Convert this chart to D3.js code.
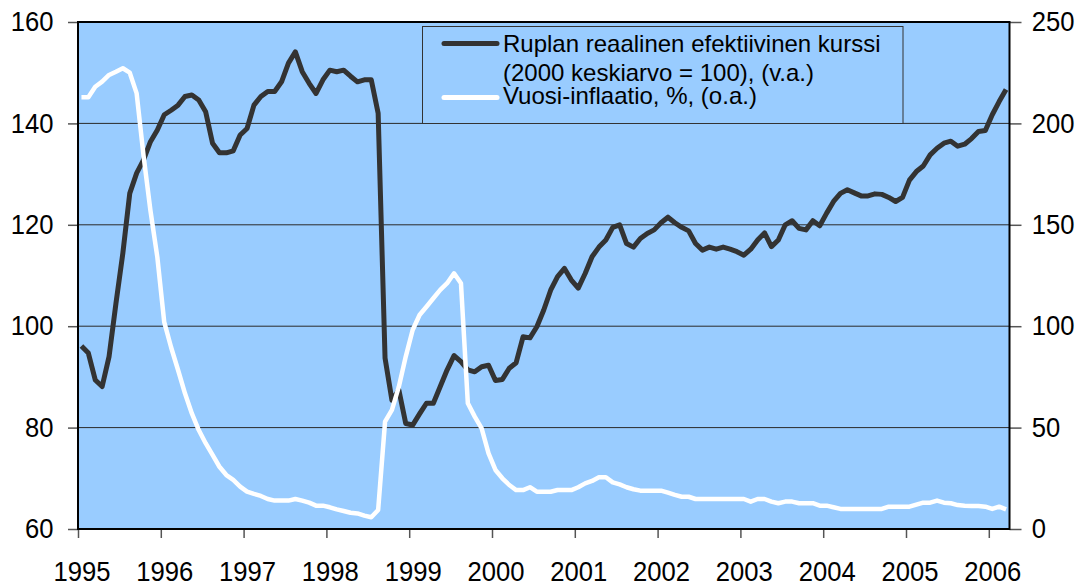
<!DOCTYPE html>
<html>
<head>
<meta charset="utf-8">
<script src="https://cdn.jsdelivr.net/npm/d3@7"></script>
<style>
  body { margin: 0; background: #fff; }
  svg { display: block; font-family: "Liberation Sans", Arial, sans-serif; }
</style>
</head>
<body>
<svg width="1081" height="584"></svg>
<script>
// monthly data, Jan 1995 .. Mar 2006
const yearLabels = ['1995', '1996', '1997', '1998', '1999', '2000', '2001', '2002', '2003', '2004', '2005', '2006'];

// Ruplan reaalinen efektiivinen kurssi (2000 = 100), left axis
const ruble = [
  96.1, 94.7, 89.4, 88.1, 94.0, 104.5, 114.4, 126.2, 130.2, 132.8, 136.4, 138.7,
  141.7, 142.6, 143.6, 145.3, 145.6, 144.6, 142.3, 136.1, 134.2, 134.2, 134.6, 137.7,
  139.0, 143.6, 145.3, 146.3, 146.3, 148.2, 151.9, 154.1, 150.2, 147.9, 145.9, 148.6,
  150.5, 150.2, 150.5, 149.3, 148.2, 148.6, 148.6, 142.0, 93.7, 85.4, 87.4, 80.8,
  80.5, 82.7, 84.8, 84.8, 88.1, 91.4, 94.2, 93.0, 91.4, 91.0, 92.0, 92.3,
  89.3, 89.5, 91.7, 92.8, 97.9, 97.7, 99.9, 103.2, 107.1, 109.8, 111.4, 109.1,
  107.5, 110.4, 113.7, 115.6, 117.0, 119.5, 120.0, 116.3, 115.6, 117.3, 118.3, 119.0,
  120.4, 121.5, 120.4, 119.5, 118.8, 116.3, 115.0, 115.6, 115.2, 115.6, 115.2, 114.7,
  114.0, 115.2, 117.0, 118.4, 115.7, 117.0, 120.0, 120.8, 119.3, 119.0, 120.8, 119.8,
  122.3, 124.6, 126.2, 126.9, 126.3, 125.7, 125.7, 126.1, 126.0, 125.4, 124.6, 125.4,
  128.8, 130.5, 131.6, 133.8, 135.1, 136.1, 136.5, 135.5, 135.9, 137.0, 138.4, 138.6,
  141.7, 144.3, 146.7
];

// Vuosi-inflaatio, %, right axis
const inflation = [
  212.9, 212.9, 218.1, 220.6, 223.9, 225.5, 227.2, 225.0, 214.8, 184.0, 157.0, 134.0,
  102.0, 89.5, 78.4, 66.9, 57.0, 48.8, 42.3, 36.5, 30.7, 26.6, 24.2, 20.9,
  18.4, 17.3, 16.3, 14.8, 14.0, 14.0, 14.0, 14.8, 14.0, 13.0, 11.5, 11.5,
  10.7, 9.7, 8.9, 8.0, 7.7, 6.6, 5.8, 9.4, 52.9, 58.7, 70.2, 85.0,
  98.1, 105.5, 109.6, 113.8, 117.9, 121.2, 126.1, 121.2, 62.0, 55.4, 49.6, 37.3,
  29.1, 25.0, 21.7, 19.2, 19.2, 20.6, 18.4, 18.4, 18.4, 19.2, 19.2, 19.2,
  20.6, 22.5, 23.7, 25.5, 25.5, 23.0, 22.0, 20.6, 19.6, 18.9, 18.9, 18.9,
  18.9, 17.9, 16.8, 15.9, 15.9, 14.8, 14.8, 14.8, 14.8, 14.8, 14.8, 14.8,
  14.8, 13.5, 14.8, 14.8, 13.5, 12.7, 13.5, 13.5, 12.7, 12.7, 12.7, 11.5,
  11.5, 10.7, 9.9, 9.9, 9.9, 9.9, 9.9, 9.9, 9.9, 11.0, 11.0, 11.0,
  11.0, 12.0, 13.0, 13.0, 14.0, 13.0, 12.7, 11.8, 11.5, 11.3, 11.3, 11.0,
  9.9, 11.0, 9.7
];

const leftTicks = [60, 80, 100, 120, 140, 160];
const rightTicks = [0, 50, 100, 150, 200, 250];
const legendLines = ['Ruplan reaalinen efektiivinen kurssi', '(2000 keskiarvo = 100), (v.a.)', 'Vuosi-inflaatio, %, (o.a.)'];

const plotLeft = 78, plotRight = 1009.5, plotTop = 22, plotBottom = 529;
const squeeze = 0.95; // tick labels are a bit narrow in the original
const svg = d3.select('svg');

const x = d3.scaleLinear().domain([0, ruble.length]).range([plotLeft, plotRight]);
const yL = d3.scaleLinear().domain([60, 160]).range([plotBottom, plotTop]);
const yR = d3.scaleLinear().domain([0, 250]).range([plotBottom, plotTop]);
const half = (x(1) - x(0)) / 2;

// plot background
svg.append('rect')
  .attr('x', plotLeft).attr('y', plotTop)
  .attr('width', plotRight - plotLeft).attr('height', plotBottom - plotTop)
  .style('fill', '#99ccff');

// gridlines
svg.append('g').selectAll('line')
  .data(leftTicks.slice(1, -1))
  .join('line')
  .attr('x1', plotLeft).attr('x2', plotRight)
  .attr('y1', d => yL(d)).attr('y2', d => yL(d))
  .style('stroke', '#2a2a2a').style('stroke-width', 1);

// axes
const axisL = svg.append('g').attr('transform', `translate(${plotLeft},0)`)
  .call(d3.axisLeft(yL).tickValues(leftTicks).tickSize(10));
const axisR = svg.append('g').attr('transform', `translate(${plotRight},0)`)
  .call(d3.axisRight(yR).tickValues(rightTicks).tickSize(12));
const axisB = svg.append('g').attr('transform', `translate(0,${plotBottom})`)
  .call(d3.axisBottom(x).tickValues(yearLabels.map((d, i) => i * 12))
    .tickFormat((d, i) => yearLabels[i]).tickSize(9));

[axisL, axisR, axisB].forEach(a => {
  a.select('.domain').remove();
  a.selectAll('.tick line').style('stroke', '#555').style('stroke-width', 1.5);
  a.selectAll('.tick text').style('font-size', '27px').style('fill', '#000')
    .style('font-family', '"Liberation Sans", Arial, sans-serif')
    .attr('transform', `scale(${squeeze},1)`);
});
axisL.selectAll('.tick text').attr('x', -24.5 / squeeze);
axisR.selectAll('.tick text').attr('x', 22.3 / squeeze);
axisB.selectAll('.tick text').attr('x', half / squeeze).attr('dy', null).attr('y', 52);

// plot frame
svg.append('rect')
  .attr('x', plotLeft).attr('y', plotTop)
  .attr('width', plotRight - plotLeft).attr('height', plotBottom - plotTop)
  .style('fill', 'none').style('stroke', '#000').style('stroke-width', 2);

// series
const lineL = d3.line().x((d, i) => x(i + 0.5)).y(d => yL(d));
const lineR = d3.line().x((d, i) => x(i + 0.5)).y(d => yR(d));

svg.append('path').datum(ruble)
  .attr('d', lineL)
  .style('fill', 'none').style('stroke', '#333333')
  .style('stroke-width', 5).style('stroke-linejoin', 'round');

svg.append('path').datum(inflation)
  .attr('d', lineR)
  .style('fill', 'none').style('stroke', '#ffffff')
  .style('stroke-width', 4.5).style('stroke-linejoin', 'round');

// legend
const legend = svg.append('g');
legend.append('rect')
  .attr('x', 422.5).attr('y', 26.5).attr('width', 480.5).attr('height', 97)
  .style('fill', '#99ccff').style('stroke', '#333').style('stroke-width', 1);
legend.append('line')
  .attr('x1', 444).attr('x2', 497).attr('y1', 43.5).attr('y2', 43.5)
  .style('stroke', '#333333').style('stroke-width', 5).style('stroke-linecap', 'round');
legend.append('line')
  .attr('x1', 444).attr('x2', 497).attr('y1', 97.5).attr('y2', 97.5)
  .style('stroke', '#ffffff').style('stroke-width', 5).style('stroke-linecap', 'round');
legend.selectAll('text')
  .data(legendLines)
  .join('text')
  .attr('x', 503)
  .attr('y', (d, i) => [52, 81, 104][i])
  .style('font-size', '24px')
  .style('fill', '#000')
  .text(d => d);
</script>
</body>
</html>
